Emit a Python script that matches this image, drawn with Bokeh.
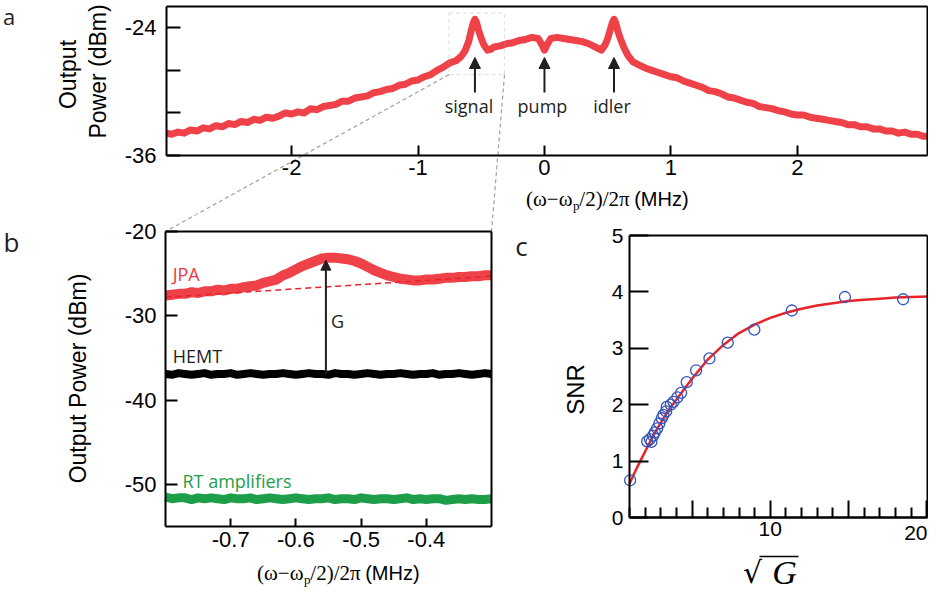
import math
from bokeh.plotting import figure
from bokeh.layouts import column, row
from bokeh.models import (Range1d, FixedTicker, Label, Arrow, NormalHead, BoxAnnotation,
                          LinearAxis)
from bokeh.embed import file_html
from bokeh.resources import INLINE

# ---------------- data ----------------
# panel a: output power spectrum
a_x = [-2.99, -2.95, -2.90, -2.85, -2.80, -2.75, -2.70, -2.65, -2.60, -2.55, -2.50, -2.45, -2.40, -2.35,
       -2.30, -2.25, -2.20, -2.15, -2.10, -2.05, -2.00, -1.95, -1.90, -1.85, -1.80, -1.75, -1.70, -1.65,
       -1.60, -1.55, -1.50, -1.45, -1.40, -1.35, -1.30, -1.25, -1.20, -1.15, -1.10, -1.05, -1.00, -0.95,
       -0.90, -0.85, -0.80, -0.75, -0.70, -0.66, -0.63, -0.60, -0.58, -0.565, -0.55, -0.535, -0.52, -0.50,
       -0.48, -0.45, -0.42, -0.40, -0.35, -0.30, -0.25, -0.20, -0.15, -0.10, -0.05, -0.02, 0.00, 0.02,
       0.05, 0.10, 0.15, 0.20, 0.25, 0.30, 0.35, 0.40, 0.45, 0.48, 0.50, 0.52, 0.535, 0.55, 0.565, 0.58,
       0.60, 0.63, 0.66, 0.70, 0.75, 0.80, 0.85, 0.90, 0.95, 1.00, 1.05, 1.10, 1.15, 1.20, 1.25, 1.30,
       1.35, 1.40, 1.45, 1.50, 1.55, 1.60, 1.65, 1.70, 1.75, 1.80, 1.85, 1.90, 1.95, 2.00, 2.05, 2.10,
       2.15, 2.20, 2.25, 2.30, 2.35, 2.40, 2.45, 2.50, 2.55, 2.60, 2.65, 2.70, 2.75, 2.80, 2.85, 2.90,
       2.95, 3.00, 3.03]
a_y = [-33.9, -34.0, -33.8, -33.9, -33.6, -33.7, -33.4, -33.5, -33.2, -33.3, -33.0, -33.1, -32.8, -32.9,
       -32.6, -32.7, -32.4, -32.5, -32.3, -32.0, -32.1, -31.9, -32.0, -31.6, -31.7, -31.4, -31.3, -31.2,
       -30.9, -30.9, -30.6, -30.5, -30.4, -30.1, -30.0, -29.8, -29.7, -29.4, -29.3, -29.0, -28.9, -28.6,
       -28.4, -28.0, -27.7, -27.3, -27.1, -26.7, -26.2, -25.3, -24.3, -23.6, -23.2, -23.6, -24.3, -25.0,
       -25.6, -26.1, -26.0, -25.8, -25.7, -25.5, -25.4, -25.2, -25.1, -24.9, -25.0, -25.6, -26.1, -25.6,
       -25.0, -24.9, -25.0, -25.1, -25.2, -25.3, -25.5, -25.8, -26.1, -25.6, -25.0, -24.2, -23.6, -23.2,
       -23.6, -24.3, -25.0, -25.9, -26.6, -27.2, -27.5, -27.8, -28.0, -28.2, -28.4, -28.6, -28.7, -29.0,
       -29.2, -29.4, -29.6, -29.9, -30.0, -30.2, -30.5, -30.6, -30.8, -31.0, -31.1, -31.4, -31.5, -31.6,
       -31.8, -31.9, -32.1, -32.2, -32.2, -32.4, -32.5, -32.6, -32.7, -32.8, -32.9, -33.1, -33.1, -33.3,
       -33.3, -33.5, -33.5, -33.7, -33.7, -33.9, -33.8, -34.0, -34.0, -34.2, -34.2]
a_marker_x = [-0.55, 0.0, 0.55]
a_marker_names = ["signal", "pump", "idler"]
a_xlim = (-2.99, 3.03)
a_ylim = (-36, -22)
a_yticks = [-36, -24]          # labelled
a_yticks_plain = [-32, -28]    # unlabelled
a_xticks = [-2, -1, 0, 1, 2]
zoom_box = (-0.755, -0.316, -28.4, -22.63)   # left, right, bottom, top

# panel b: zoom on the signal peak
b_x = [-0.80, -0.79, -0.78, -0.77, -0.76, -0.75, -0.74, -0.73, -0.72, -0.71, -0.70, -0.69, -0.68,
       -0.67, -0.66, -0.65, -0.64, -0.63, -0.62, -0.61, -0.60, -0.59, -0.58, -0.57, -0.56, -0.55,
       -0.54, -0.53, -0.52, -0.51, -0.50, -0.49, -0.48, -0.47, -0.46, -0.45, -0.44, -0.43, -0.42,
       -0.41, -0.40, -0.39, -0.38, -0.37, -0.36, -0.35, -0.34, -0.33, -0.32, -0.31, -0.30]
jpa_y = [-27.6, -27.5, -27.4, -27.4, -27.2, -27.3, -27.1, -27.1, -26.9, -27.0, -26.8, -26.8, -26.6,
         -26.5, -26.4, -26.1, -25.9, -25.7, -25.2, -24.9, -24.5, -24.1, -23.8, -23.5, -23.2, -23.1,
         -23.1, -23.2, -23.3, -23.5, -23.8, -24.2, -24.6, -24.9, -25.2, -25.4, -25.6, -25.7, -25.8,
         -25.8, -25.7, -25.7, -25.6, -25.5, -25.5, -25.4, -25.4, -25.3, -25.3, -25.2, -25.2]
hemt_y = [-36.9, -37.0, -36.8, -36.9, -37.0, -36.9, -36.8, -37.0, -36.9, -36.9, -36.8, -37.0, -36.9,
          -36.8, -36.9, -37.0, -36.9, -36.9, -36.8, -36.9, -37.0, -36.9, -36.8, -36.9, -36.9, -37.0,
          -36.8, -36.9, -36.9, -37.0, -36.9, -36.8, -36.9, -37.0, -36.9, -36.9, -36.8, -36.9, -37.0,
          -36.9, -36.9, -36.8, -37.0, -36.9, -36.9, -36.8, -36.9, -37.0, -36.9, -36.8, -36.9]
rt_y = [-51.5, -51.7, -51.6, -51.6, -51.8, -51.6, -51.7, -51.6, -51.7, -51.8, -51.6, -51.7, -51.7,
        -51.6, -51.8, -51.7, -51.6, -51.7, -51.8, -51.7, -51.6, -51.7, -51.8, -51.7, -51.7, -51.6,
        -51.8, -51.7, -51.7, -51.8, -51.6, -51.7, -51.8, -51.7, -51.7, -51.8, -51.7, -51.6, -51.8,
        -51.7, -51.8, -51.7, -51.7, -51.9, -51.8, -51.7, -51.8, -51.7, -51.8, -51.8, -51.7]
baseline_x = [-0.80, -0.30]
baseline_y = [-27.8, -25.3]
gain_x = -0.554
gain_from = -36.9
gain_to = -23.4
b_xlim = (-0.8, -0.3)
b_ylim = (-55, -20)
b_yticks = [-50, -40, -30, -20]
b_xticks = [-0.7, -0.6, -0.5, -0.4]

# panel c: SNR vs sqrt(G)
snr_x = [1.04, 2.13, 2.30, 2.40, 2.51, 2.62, 2.77, 2.91, 3.06, 3.17, 3.34, 3.38, 3.64, 3.81, 4.06,
         4.30, 4.66, 5.26, 6.11, 7.28, 8.98, 11.38, 14.77, 18.49]
snr_y = [0.66, 1.35, 1.39, 1.34, 1.45, 1.51, 1.58, 1.67, 1.76, 1.82, 1.88, 1.96, 2.00, 2.05, 2.13,
         2.21, 2.40, 2.61, 2.82, 3.10, 3.33, 3.67, 3.91, 3.87]
fit_x = [1.0, 1.3, 1.6, 2.0, 2.5, 3.0, 3.5, 4.0, 4.5, 5.0, 6.0, 7.0, 8.0, 9.0, 10.0, 11.0, 12.0,
         13.0, 14.0, 15.0, 16.0, 17.0, 18.0, 19.0, 20.05]
fit_y = [0.60, 0.78, 0.95, 1.17, 1.44, 1.68, 1.90, 2.09, 2.28, 2.46, 2.80, 3.06, 3.27, 3.42, 3.54,
         3.63, 3.70, 3.76, 3.80, 3.84, 3.86, 3.88, 3.90, 3.91, 3.92]
c_xlim = (1, 20.05)
c_ylim = (0, 5)
c_yticks = [0, 1, 2, 3, 4, 5]
c_xticks = [10]                  # labelled on the axis
c_xticks_long = [5, 15, 20]      # long marks without an axis label ("20" is set apart)
c_xminor = [1, 2, 3, 4, 6, 7, 8, 9, 11, 12, 13, 14, 16, 17, 18, 19]

# ---------------- style ----------------
SANS = "Liberation Sans"
MYR = "Open Sans"
SERIF = "Liberation Serif"
RED = "#ef4248"
DARK = "#231f20"
GREEN = "#1f9e4a"
BLUE = "#3554b8"
FITRED = "#e8232a"
GREY = "#a0a0a0"
PAGE = 8  # page margin of the reference picture


class Geo:
    """Maps the pixels of one canvas to the data space of its panel."""

    def __init__(self, W, H, ox, oy, box, xlim, ylim):
        self.W, self.H, self.ox, self.oy = W, H, ox, oy
        self.l, self.r, self.t, self.b = box
        self.xlim, self.ylim = xlim, ylim
        self.kx = (xlim[1] - xlim[0]) / (self.r - self.l)
        self.ky = (ylim[1] - ylim[0]) / (self.b - self.t)

    def dx(self, cx):
        return self.xlim[0] + (cx - self.l) * self.kx

    def dy(self, cy):
        return self.ylim[0] + (self.b - cy) * self.ky

    def px(self, x):
        return self.l + (x - self.xlim[0]) / self.kx

    def py(self, y):
        return self.b - (y - self.ylim[0]) / self.ky

    def ref(self, rx, ry):
        return self.dx(rx - PAGE - self.ox), self.dy(ry - PAGE - self.oy)

    def from_page(self, X, Y):
        return self.dx(X - self.ox), self.dy(Y - self.oy)

    def to_page(self, x, y):
        return self.ox + self.px(x), self.oy + self.py(y)


ga = Geo(928, 214, 0, 0, (166, 927, 6, 155), a_xlim, a_ylim)
gb = Geo(504, 380, 0, 214, (165, 491, 17, 312), b_xlim, b_ylim)
gc = Geo(424, 380, 504, 214, (125, 423, 21, 303), c_xlim, c_ylim)


def make_fig(g):
    p = figure(width=g.W, height=g.H,
               x_range=Range1d(g.dx(0), g.dx(g.W)), y_range=Range1d(g.dy(g.H), g.dy(0)),
               x_axis_type=None, y_axis_type=None, toolbar_location=None,
               output_backend="svg", min_border=0)
    p.outline_line_color = None
    p.background_fill_color = "white"
    p.border_fill_color = "white"
    return p


def fmt(t):
    return str(int(t)) if float(t).is_integer() else ("%g" % t)


def add_axis(p, side, loc, bounds, ticks=(), minor=(), tick_in=10, minor_in=0, standoff=6,
             size="22px"):
    ax = LinearAxis(fixed_location=loc, bounds=bounds,
                    ticker=FixedTicker(ticks=list(ticks), minor_ticks=list(minor)))
    ax.axis_line_width = 2
    ax.axis_line_color = "black"
    ax.major_tick_line_width = 2
    ax.major_tick_line_color = "black"
    ax.minor_tick_line_width = 2
    ax.minor_tick_line_color = "black"
    ax.major_tick_in = tick_in
    ax.major_tick_out = 0
    ax.minor_tick_in = minor_in
    ax.minor_tick_out = 0
    ax.major_label_standoff = standoff
    ax.major_label_text_font = SANS
    ax.major_label_text_font_size = size
    ax.major_label_text_color = "black"
    ax.major_label_overrides = {t: fmt(t) for t in ticks}
    p.add_layout(ax, side)
    return ax


def frame_box(p, g, xticks, yticks, xin=10, yin=14, xminor=(), xminor_in=0, yminor=(),
              yminor_in=0, xstand=4, ystand=10, size="22px"):
    x0, x1 = g.xlim
    y0, y1 = g.ylim
    add_axis(p, "left", x0, (y0, y1), yticks, minor=yminor, tick_in=yin, minor_in=yminor_in,
             standoff=ystand, size=size)
    add_axis(p, "below", y0, (x0, x1), xticks, minor=xminor, tick_in=xin, minor_in=xminor_in,
             standoff=xstand, size=size)
    add_axis(p, "above", y1, (x0, x1))
    add_axis(p, "right", x1, (y0, y1))


def text(p, g, rx, ry, s, font=SANS, size="20px", color="black", align="center",
         baseline="middle", angle=0.0, style="normal"):
    x, y = g.ref(rx, ry)
    p.add_layout(Label(x=x, y=y, text=s, text_font=font, text_font_size=size,
                       text_color=color, text_align=align, text_baseline=baseline,
                       angle=angle, text_font_style=style))


def dlabel(p, x, y, s, color=DARK, align="center", x_offset=0, size="18px"):
    p.add_layout(Label(x=x, y=y, text=s, text_font=MYR, text_font_size=size,
                       text_color=color, text_align=align, text_baseline="middle",
                       x_offset=x_offset))


def freq_label(p, g, rx_split, ry):
    text(p, g, rx_split, ry, "(ω−ω", font=SERIF, size="21px", align="right")
    text(p, g, rx_split + 0.5, ry + 7, "p", font=SERIF, size="13px", align="left")
    text(p, g, rx_split + 6.8, ry, "/2)/2π", font=SERIF, size="21px", align="left")


# corners shared by the zoom connectors (page-canvas pixels)
box_bl = ga.to_page(zoom_box[0], zoom_box[2])
box_br = ga.to_page(zoom_box[1], zoom_box[2])
b_tl = gb.to_page(b_xlim[0], b_ylim[1])
b_tr = gb.to_page(b_xlim[1], b_ylim[1])

# ---------------- panel a ----------------
pa = make_fig(ga)
frame_box(pa, ga, a_xticks, a_yticks, xin=10, yin=14, yminor=a_yticks_plain, yminor_in=14,
          xstand=4, ystand=10)
pa.line(a_x, a_y, line_color=RED, line_width=7, line_join="round")

pa.add_layout(BoxAnnotation(left=zoom_box[0], right=zoom_box[1], bottom=zoom_box[2],
                            top=zoom_box[3], fill_alpha=0, line_color=GREY,
                            line_dash="4 3", line_width=1.2))
for s, e in ((box_bl, b_tl), (box_br, b_tr)):
    xs, ys = zip(ga.from_page(*s), ga.from_page(*e))
    pa.line(list(xs), list(ys), line_color=GREY, line_dash="4 3", line_width=1.2)

for mx, name, off in zip(a_marker_x, a_marker_names, [-6, -2, -2]):
    pa.add_layout(Arrow(x_start=mx, y_start=ga.dy(100 - PAGE), x_end=mx, y_end=ga.dy(65 - PAGE),
                        end=NormalHead(size=11, fill_color=DARK, line_color=DARK),
                        line_color=DARK, line_width=2))
    dlabel(pa, mx, ga.dy(113 - PAGE), name, x_offset=off)

text(pa, ga, 16.5, 8.5, "a", font=MYR, size="22px", color=DARK, baseline="top")
text(pa, ga, 75, 82, "Output", size="23px", angle=math.pi / 2)
text(pa, ga, 105, 79, "Power (dBm)", size="23px", angle=math.pi / 2)
freq_label(pa, ga, 580, 206)
text(pa, ga, 641.7, 206, "(MHz)", size="20px", align="left")

# ---------------- panel b ----------------
pb = make_fig(gb)
frame_box(pb, gb, b_xticks, b_yticks, xin=8, yin=12, xstand=5, ystand=9)
pb.line(b_x, rt_y, line_color=GREEN, line_width=9, line_join="round")
pb.line(b_x, hemt_y, line_color="black", line_width=8, line_join="round")
pb.line(b_x, jpa_y, line_color=RED, line_width=10, line_join="round")
pb.line(baseline_x, baseline_y, line_color=FITRED, line_width=1.5, line_dash="6 4")
pb.add_layout(Arrow(x_start=gain_x, y_start=gain_from, x_end=gain_x, y_end=gain_to,
                    end=NormalHead(size=10, fill_color=DARK, line_color=DARK),
                    line_color=DARK, line_width=2))
for s, e in ((box_bl, b_tl), (box_br, b_tr)):
    xs, ys = zip(gb.from_page(*s), gb.from_page(*e))
    pb.line(list(xs), list(ys), line_color=GREY, line_dash="4 3", line_width=1.2)

dlabel(pb, -0.789, -25.1, "JPA", color="#ee3a40", align="left")
dlabel(pb, -0.789, -34.8, "HEMT", color=DARK, align="left")
dlabel(pb, -0.774, -49.6, "RT amplifiers", color=GREEN, align="left")
dlabel(pb, -0.546, -30.6, "G", color=DARK, align="left")

text(pb, gb, 19, 249, "b", font=MYR, size="26px", color=DARK)
text(pb, gb, 85, 386, "Output Power (dBm)", size="23px", angle=math.pi / 2)
freq_label(pb, gb, 311, 580)
text(pb, gb, 372.7, 580, "(MHz)", size="20px", align="left")

# ---------------- panel c ----------------
pc = make_fig(gc)
frame_box(pc, gc, c_xticks, c_yticks, xin=17, yin=19, xminor=c_xminor, xminor_in=10,
          xstand=4, ystand=6, size="21px")
# long, unlabelled marks at 5, 15 and 20
add_axis(pc, "below", c_ylim[0], c_xlim, (), minor=c_xticks_long, minor_in=17)
pc.line(fit_x, fit_y, line_color=FITRED, line_width=2.5)
pc.scatter(snr_x, snr_y, marker="circle", size=11, fill_color=None, line_color=BLUE,
           line_width=1.3)

text(pc, gc, 935, 533, "20", size="21px", align="right", baseline="top")
text(pc, gc, 529, 253, "c", font=MYR, size="26px", color=DARK)
text(pc, gc, 583, 397, "SNR", size="24px", angle=math.pi / 2)
text(pc, gc, 760, 580, "√", font="DejaVu Serif", size="30px")
text(pc, gc, 792, 580, "G", font=SERIF, size="34px", style="italic")
ox0, oy0 = gc.ref(767, 564)
ox1, oy1 = gc.ref(806, 564)
pc.line([ox0, ox1], [oy0, oy1], line_color="black", line_width=1.5)

layout = column(pa, row(pb, pc))
open("out.html", "w").write(file_html(layout, INLINE))
